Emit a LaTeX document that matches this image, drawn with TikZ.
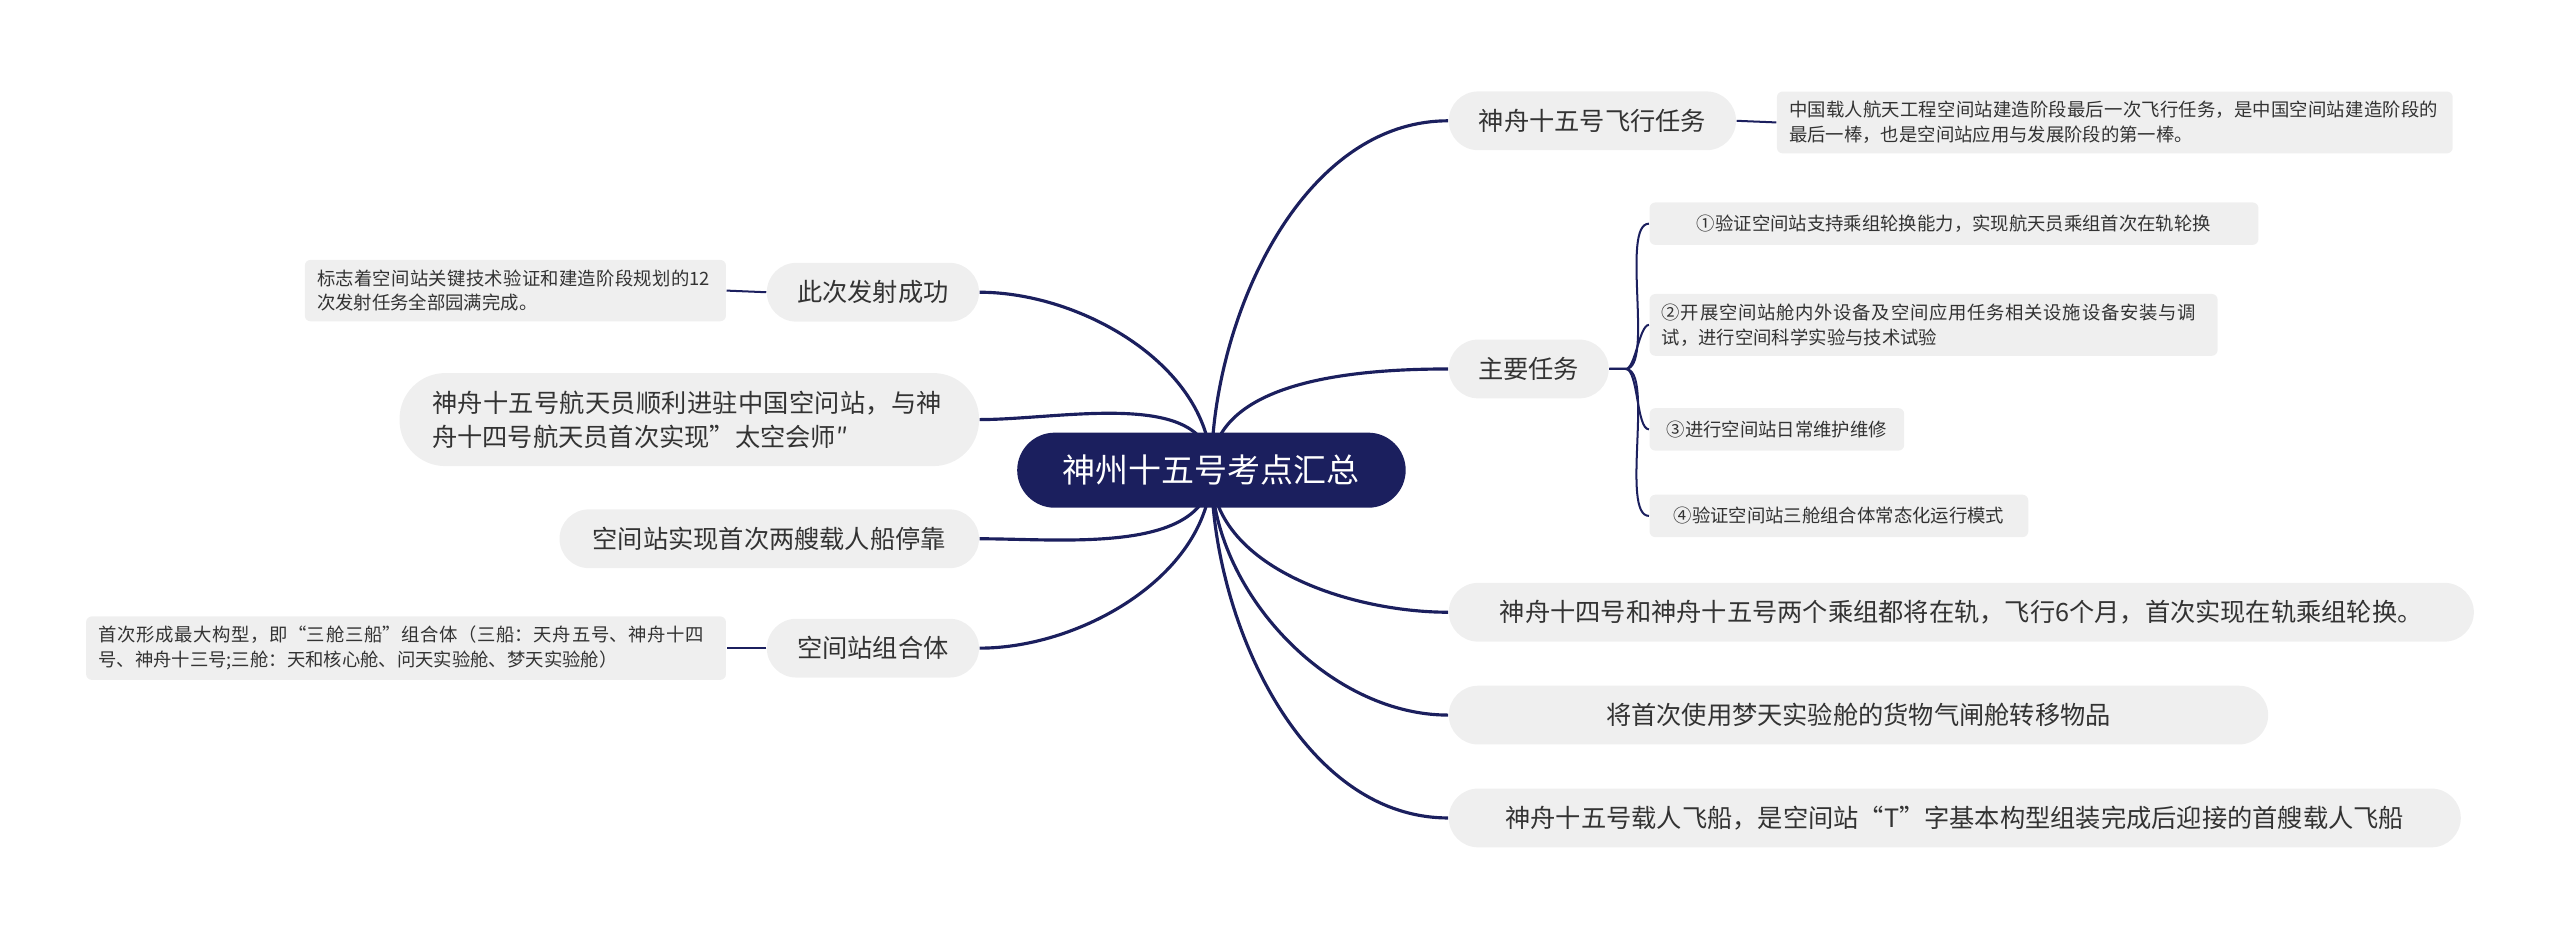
\documentclass[tikz,border=0pt]{standalone}
\usepackage{fontspec}
\setmainfont{Noto Sans CJK SC}
\XeTeXlinebreaklocale "zh"
\XeTeXlinebreakskip=0pt plus 1pt
\usetikzlibrary{positioning,backgrounds}
\definecolor{navy}{HTML}{1B1F5E}
\definecolor{boxgray}{HTML}{EFEFEF}
\definecolor{ink}{HTML}{333333}
\tikzset{
  root/.style={fill=navy,text=white,rounded corners=0.46cm,minimum height=0.92cm,font=\fontsize{11.5}{13}\selectfont},
  topic/.style={fill=boxgray,text=ink,rounded corners=0.36cm,minimum height=0.72cm,font=\fontsize{8.8}{12}\selectfont,inner xsep=0.3cm},
  detail/.style={fill=boxgray,text=ink,rounded corners=2pt,font=\fontsize{6.4}{8.6}\selectfont,align=left,inner xsep=0.15cm,inner ysep=0.12cm},
  link/.style={draw=navy,line width=1.1pt},
  sublink/.style={draw=navy,line width=0.7pt}
}
\begin{document}
\begin{tikzpicture}[x=0.02cm,y=-0.02cm]
  \useasboundingbox (0,0) rectangle (1568,573);
  % centre
  \node[root,minimum width=4.76cm] (hub) at (742,288) {神州十五号考点汇总};

  % right side
  \node[topic,anchor=west,minimum width=3.52cm] (fly) at (887,74) {神舟十五号飞行任务};
  \node[detail,anchor=west,text width=7.98cm] (flyd) at (1088,75) {中国载人航天工程空间站建造阶段最后一次飞行任务，是中国空间站建造阶段的最后一棒，也是空间站应用与发展阶段的第一棒。};
  \node[topic,anchor=west,minimum width=1.96cm] (task) at (887,226) {主要任务};
  \node[detail,anchor=west,minimum width=7.46cm,minimum height=0.52cm] (t1) at (1010,137) {①验证空间站支持乘组轮换能力，实现航天员乘组首次在轨轮换};
  \node[detail,anchor=west,text width=6.66cm] (t2) at (1010,199) {②开展空间站舱内外设备及空间应用任务相关设施设备安装与调试，进行空间科学实验与技术试验};
  \node[detail,anchor=west,minimum width=3.12cm,minimum height=0.52cm] (t3) at (1010,263) {③进行空间站日常维护维修};
  \node[detail,anchor=west,minimum width=4.64cm,minimum height=0.52cm] (t4) at (1010,316) {④验证空间站三舱组合体常态化运行模式};
  \node[topic,anchor=west,minimum width=12.56cm] (crew) at (887,375) {神舟十四号和神舟十五号两个乘组都将在轨，飞行6个月，首次实现在轨乘组轮换。};
  \node[topic,anchor=west,minimum width=10.04cm] (cargo) at (887,438) {将首次使用梦天实验舱的货物气闸舱转移物品};
  \node[topic,anchor=west,minimum width=12.4cm] (ship) at (887,501) {神舟十五号载人飞船，是空间站“T”字基本构型组装完成后迎接的首艘载人飞船};

  % left side
  \node[topic,anchor=east,minimum width=2.6cm] (launch) at (600,179) {此次发射成功};
  \node[detail,anchor=east,text width=4.86cm] (launchd) at (445,178) {标志着空间站关键技术验证和建造阶段规划的12次发射任务全部园满完成。};
  \node[topic,anchor=east,text width=6.3cm,align=left,rounded corners=0.56cm,minimum height=1.14cm,inner xsep=0.4cm] (enter) at (600,257) {神舟十五号航天员顺利进驻中国空问站，与神舟十四号航天员首次实现”太空会师″};
  \node[topic,anchor=east,minimum width=5.14cm] (dock) at (600,330) {空间站实现首次两艘载人船停靠};
  \node[topic,anchor=east,minimum width=2.6cm] (combo) at (600,397) {空间站组合体};
  \node[detail,anchor=east,text width=7.54cm] (combod) at (445,397) {首次形成最大构型，即“三舱三船”组合体（三船：天舟五号、神舟十四号、神舟十三号;三舱：天和核心舱、问天实验舱、梦天实验舱）};

  \begin{pgfonlayer}{background}
    % main branches
    \foreach \n/\o in {fly/90,task/90,crew/-90,cargo/-90,ship/-90}
      \draw[link] (hub.center) to[out=\o,in=180,looseness=0.9] (\n.west);
    \foreach \n/\o in {launch/90,enter/90,dock/-90,combo/-90}
      \draw[link] (hub.center) to[out=\o,in=0,looseness=0.9] (\n.east);
    % details
    \draw[sublink] (fly.east) -- (flyd.west);
    \draw[sublink] (launch.west) -- (launchd.east);
    \draw[sublink] (combo.west) -- (combod.east);
    \foreach \n in {t1,t2,t3,t4}
      \draw[sublink] (task.east) -- ++(10,0) to[out=0,in=180,looseness=0.5] (\n.west);
  \end{pgfonlayer}
\end{tikzpicture}
\end{document}
